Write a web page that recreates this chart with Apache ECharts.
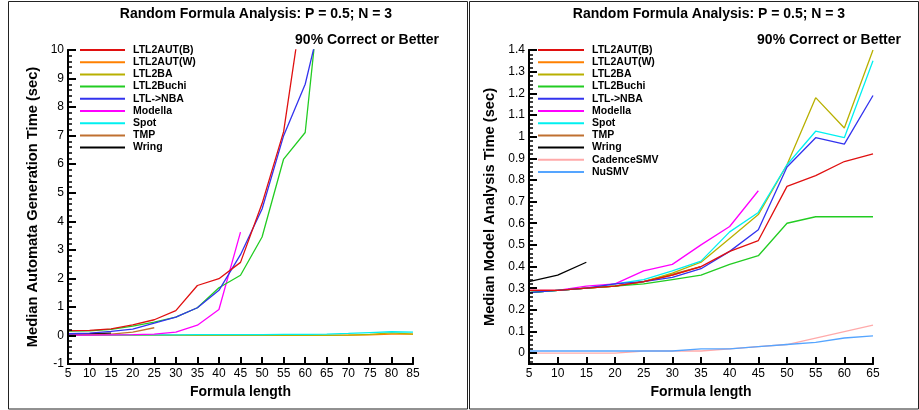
<!DOCTYPE html>
<html><head><meta charset="utf-8">
<script src="https://cdn.jsdelivr.net/npm/echarts@6/dist/echarts.min.js"></script>
<style>html,body{margin:0;padding:0;background:#fff}
#wrap{position:relative;width:919px;height:410px}
#c,#t{position:absolute;left:0;top:0;width:919px;height:410px}
#t{pointer-events:none}</style>
</head><body><div id="wrap"><div id="c"></div><div id="t"></div></div>
<script>
// ---- Left chart: Median Automata Generation Time ----
const LEFT_X = [5,10,15,20,25,30,35,40,45,50,55,60,65,70,75,80,85];
const LEFT_Y_TICKS = [-1,0,1,2,3,4,5,6,7,8,9,10];
const L_LTL2AUT_B = [0.17,0.18,0.23,0.37,0.55,0.87,1.75,1.99,2.56,4.62,7.14,12.25];
const L_LTL2AUT_W = [0.01,0.01,0.01,0.01,0.01,0.01,0.01,0.01,0.01,0.01,0.01,0.01,0.01,0.01,0.02,0.05,0.05];
const L_LTL2BA = [0,0,0,0,0,0,0,0,0,0,0,0,0,0.01,0.04,0.09,0.05];
const L_LTL2BUCHI = [0.15,0.16,0.21,0.33,0.47,0.64,0.97,1.67,2.11,3.45,6.18,7.11,14.3];
const L_LTLNBA = [0.06,0.08,0.14,0.22,0.43,0.64,0.97,1.58,2.83,4.43,7.0,8.8,11.96];
const L_MODELLA = [0.01,0.01,0.02,0.03,0.05,0.12,0.36,0.91,3.62];
const L_SPOT = [0.02,0.02,0.02,0.02,0.02,0.02,0.03,0.03,0.03,0.03,0.04,0.04,0.05,0.07,0.1,0.13,0.12];
const L_TMP = [0.02,0.03,0.05,0.12,0.27];
const L_WRING = [0.05,0.06,0.08];

// ---- Right chart: Median Model Analysis Time ----
const RIGHT_X = [5,10,15,20,25,30,35,40,45,50,55,60,65];
const RIGHT_Y_TICKS = [0,0.1,0.2,0.3,0.4,0.5,0.6,0.7,0.8,0.9,1,1.1,1.2,1.3,1.4];
const R_LTL2AUT_B = [0.29,0.29,0.30,0.31,0.33,0.36,0.40,0.47,0.52,0.77,0.82,0.885,0.92];
const R_LTL2AUT_W = [0.29,0.29,0.30,0.31,0.33,0.36,0.40];
const R_LTL2BA = [0.28,0.29,0.30,0.31,0.33,0.37,0.42,0.53,0.64,0.87,1.18,1.04,1.40];
const R_LTL2BUCHI = [0.28,0.29,0.30,0.31,0.32,0.34,0.36,0.41,0.45,0.60,0.63,0.63,0.63];
const R_LTLNBA = [0.28,0.29,0.30,0.32,0.33,0.35,0.39,0.47,0.57,0.86,0.995,0.965,1.19];
const R_MODELLA = [0.29,0.29,0.31,0.32,0.38,0.41,0.50,0.585,0.75];
const R_SPOT = [0.28,0.29,0.30,0.32,0.34,0.38,0.425,0.56,0.65,0.87,1.025,0.995,1.35];
const R_TMP = [0.28,0.29,0.30,0.31,0.33,0.365,0.40];
const R_WRING = [0.33,0.36,0.42];
const R_CADENCE = [0,0,0,0,0.01,0.01,0.01,0.02,0.03,0.04,0.07,0.10,0.13];
const R_NUSMV = [0.01,0.01,0.01,0.01,0.01,0.01,0.02,0.02,0.03,0.04,0.05,0.07,0.08];

const NAMES_LEFT = ['LTL2AUT(B)','LTL2AUT(W)','LTL2BA','LTL2Buchi','LTL->NBA','Modella','Spot','TMP','Wring'];
const NAMES_RIGHT = NAMES_LEFT.concat(['CadenceSMV','NuSMV']);
const COLORS = {
  'LTL2AUT(B)':'#e01010','LTL2AUT(W)':'#ff8000','LTL2BA':'#b8b000','LTL2Buchi':'#22cc22',
  'LTL->NBA':'#3333ee','Modella':'#ff00ff','Spot':'#00f0f0','TMP':'#c07030','Wring':'#000000',
  'CadenceSMV':'#ffaaaa','NuSMV':'#55a5ff'
};
const FONT = '"Liberation Sans", Arial, sans-serif';

function zip(xs, ys){ return ys.map((v,i)=>[xs[i], v]); }
function mk(name, xs, ys, side){
  return {name, type:'line', xAxisIndex:side, yAxisIndex:side, data:zip(xs,ys),
    symbol:'none', clip:true, animation:false,
    lineStyle:{color:COLORS[name], width:1.3}, itemStyle:{color:COLORS[name]},
    emphasis:{disabled:true}};
}
const leftSets = [L_LTL2AUT_B,L_LTL2AUT_W,L_LTL2BA,L_LTL2BUCHI,L_LTLNBA,L_MODELLA,L_SPOT,L_TMP,L_WRING];
const rightSets = [R_LTL2AUT_B,R_LTL2AUT_W,R_LTL2BA,R_LTL2BUCHI,R_LTLNBA,R_MODELLA,R_SPOT,R_TMP,R_WRING,R_CADENCE,R_NUSMV];
const leftOrder = [1,2,6,8,7,5,3,4,0];
const rightOrder = [9,10,8,1,7,2,6,5,3,4,0];
const series = [];
leftOrder.forEach(i=>series.push(mk(NAMES_LEFT[i], LEFT_X, leftSets[i], 0)));
rightOrder.forEach(i=>series.push(mk(NAMES_RIGHT[i], RIGHT_X, rightSets[i], 1)));

// minor tick positions for the right axis (tick marks only, not data)
const rightMinor = [];
for (let k=-2; k<=69; k++){ if (k%5!==0) rightMinor.push(+(k*0.02).toFixed(2)); }

const GRIDS = [
  {left:68, right:506, top:50, bottom:46},
  {left:529, right:46, top:50, bottom:46}
];
const axisLineStyle = {color:'#000', width:2};
const labelStyle = {color:'#000', fontSize:12, fontFamily:FONT, margin:4};
const nameStyleX = {color:'#000', fontSize:14, fontWeight:'bold', fontFamily:FONT};
const nameStyleY = {color:'#000', fontSize:14.7, fontWeight:'bold', fontFamily:FONT};
const legendText = {color:'#000', fontSize:10.5, fontWeight:'bold', fontFamily:FONT, lineHeight:12, padding:[0,0,0,3]};

function xMain(grid, min, max){
  return {gridIndex:grid, type:'value', position:'bottom', min, max, interval:5,
    axisLine:{show:true, onZero:false, lineStyle:axisLineStyle},
    axisTick:{show:false},
    axisLabel:labelStyle, splitLine:{show:false},
    name:'Formula length', nameLocation:'middle', nameGap:15, nameTextStyle:nameStyleX};
}

// ---- main chart: lines, labels, names, legends, titles ----
const option = {
  animation:false,
  grid:GRIDS,
  xAxis:[ xMain(0,5,85), xMain(1,5,65) ],
  yAxis:[
    {gridIndex:0, type:'value', position:'left', min:-1, max:10, interval:1,
     axisLine:{show:true, onZero:false, lineStyle:axisLineStyle},
     axisTick:{show:false},
     axisLabel:labelStyle, splitLine:{show:false},
     name:'Median Automata Generation Time (sec)', nameLocation:'middle', nameGap:28, nameTextStyle:nameStyleY},
    {gridIndex:1, type:'value', position:'left', min:-0.05, max:1.4,
     axisLine:{show:true, onZero:false, lineStyle:axisLineStyle},
     axisTick:{show:false},
     axisLabel:Object.assign({customValues:RIGHT_Y_TICKS, formatter:v=>String(+v.toFixed(2))}, labelStyle),
     splitLine:{show:false},
     name:'Median Model Analysis Time (sec)', nameLocation:'middle', nameGap:32, nameTextStyle:nameStyleY}
  ],
  legend:[
    {data:NAMES_LEFT, orient:'vertical', left:80, top:44, icon:'rect', itemWidth:45, itemHeight:2,
     itemGap:0.2, textStyle:legendText, selectedMode:false, padding:0},
    {data:NAMES_RIGHT, orient:'vertical', left:538, top:44, icon:'rect', itemWidth:46, itemHeight:2,
     itemGap:0.2, textStyle:legendText, selectedMode:false, padding:0}
  ],
  graphic:[
    {type:'rect', shape:{x:8.5, y:1.5, width:459, height:407.5}, style:{fill:'none', stroke:'#222', lineWidth:1}, silent:true, z:-1},
    {type:'rect', shape:{x:469.5, y:1.5, width:449, height:407.5}, style:{fill:'none', stroke:'#222', lineWidth:1}, silent:true, z:-1},
    {type:'text', x:256, y:14, style:{text:'Random Formula Analysis: P = 0.5; N = 3', font:'bold 14px '+FONT, fill:'#000', textAlign:'center', textVerticalAlign:'middle'}},
    {type:'text', x:439, y:40, style:{text:'90% Correct or Better', font:'bold 14px '+FONT, fill:'#000', textAlign:'right', textVerticalAlign:'middle'}},
    {type:'text', x:709, y:14, style:{text:'Random Formula Analysis: P = 0.5; N = 3', font:'bold 14px '+FONT, fill:'#000', textAlign:'center', textVerticalAlign:'middle'}},
    {type:'text', x:901, y:40, style:{text:'90% Correct or Better', font:'bold 14px '+FONT, fill:'#000', textAlign:'right', textVerticalAlign:'middle'}}
  ],
  series
};
const chart = echarts.init(document.getElementById('c'));
chart.setOption(option);

// ---- overlay chart: same grids and scales, draws the axis tick marks ----
const hiddenLabel = {show:true, color:'rgba(0,0,0,0)', fontSize:12, fontFamily:FONT, margin:4};
const tickOption = {
  animation:false, backgroundColor:'transparent',
  grid:GRIDS,
  xAxis:[
    {gridIndex:0, type:'value', min:5, max:85, interval:5,
     axisLine:{show:true, onZero:false, lineStyle:axisLineStyle},
     axisTick:{show:true, inside:true, length:7, lineStyle:{color:'#000', width:2}},
     axisLabel:hiddenLabel, splitLine:{show:false}},
    {gridIndex:1, type:'value', min:5, max:65, interval:5,
     axisLine:{show:true, onZero:false, lineStyle:axisLineStyle},
     axisTick:{show:true, inside:true, length:7, lineStyle:{color:'#000', width:2}},
     axisLabel:hiddenLabel, splitLine:{show:false}}
  ],
  yAxis:[
    {gridIndex:0, type:'value', min:-1, max:10, interval:1,
     axisLine:{show:true, onZero:false, lineStyle:axisLineStyle},
     axisTick:{show:true, inside:true, length:8, lineStyle:{color:'#000', width:2}},
     minorTick:{show:true, splitNumber:5, length:4, lineStyle:{color:'#000', width:1.5}},
     axisLabel:hiddenLabel, splitLine:{show:false}, minorSplitLine:{show:false}},
    {gridIndex:1, type:'value', min:-0.05, max:1.4,
     axisLine:{show:true, onZero:false, lineStyle:axisLineStyle},
     axisTick:{show:true, inside:true, length:8, customValues:RIGHT_Y_TICKS, lineStyle:{color:'#000', width:2}},
     axisLabel:Object.assign({}, hiddenLabel, {customValues:RIGHT_Y_TICKS}), splitLine:{show:false}},
    {gridIndex:1, type:'value', position:'left', min:-0.05, max:1.4,
     axisLine:{show:false, onZero:false},
     axisTick:{show:true, inside:true, length:4, customValues:rightMinor, lineStyle:{color:'#000', width:1.5}},
     axisLabel:{show:false, customValues:rightMinor}, splitLine:{show:false}}
  ],
  series:[
    {type:'line', xAxisIndex:0, yAxisIndex:0, data:[], silent:true},
    {type:'line', xAxisIndex:1, yAxisIndex:1, data:[], silent:true},
    {type:'line', xAxisIndex:1, yAxisIndex:2, data:[], silent:true}
  ]
};
const tickChart = echarts.init(document.getElementById('t'));
tickChart.setOption(tickOption);
</script></body></html>
